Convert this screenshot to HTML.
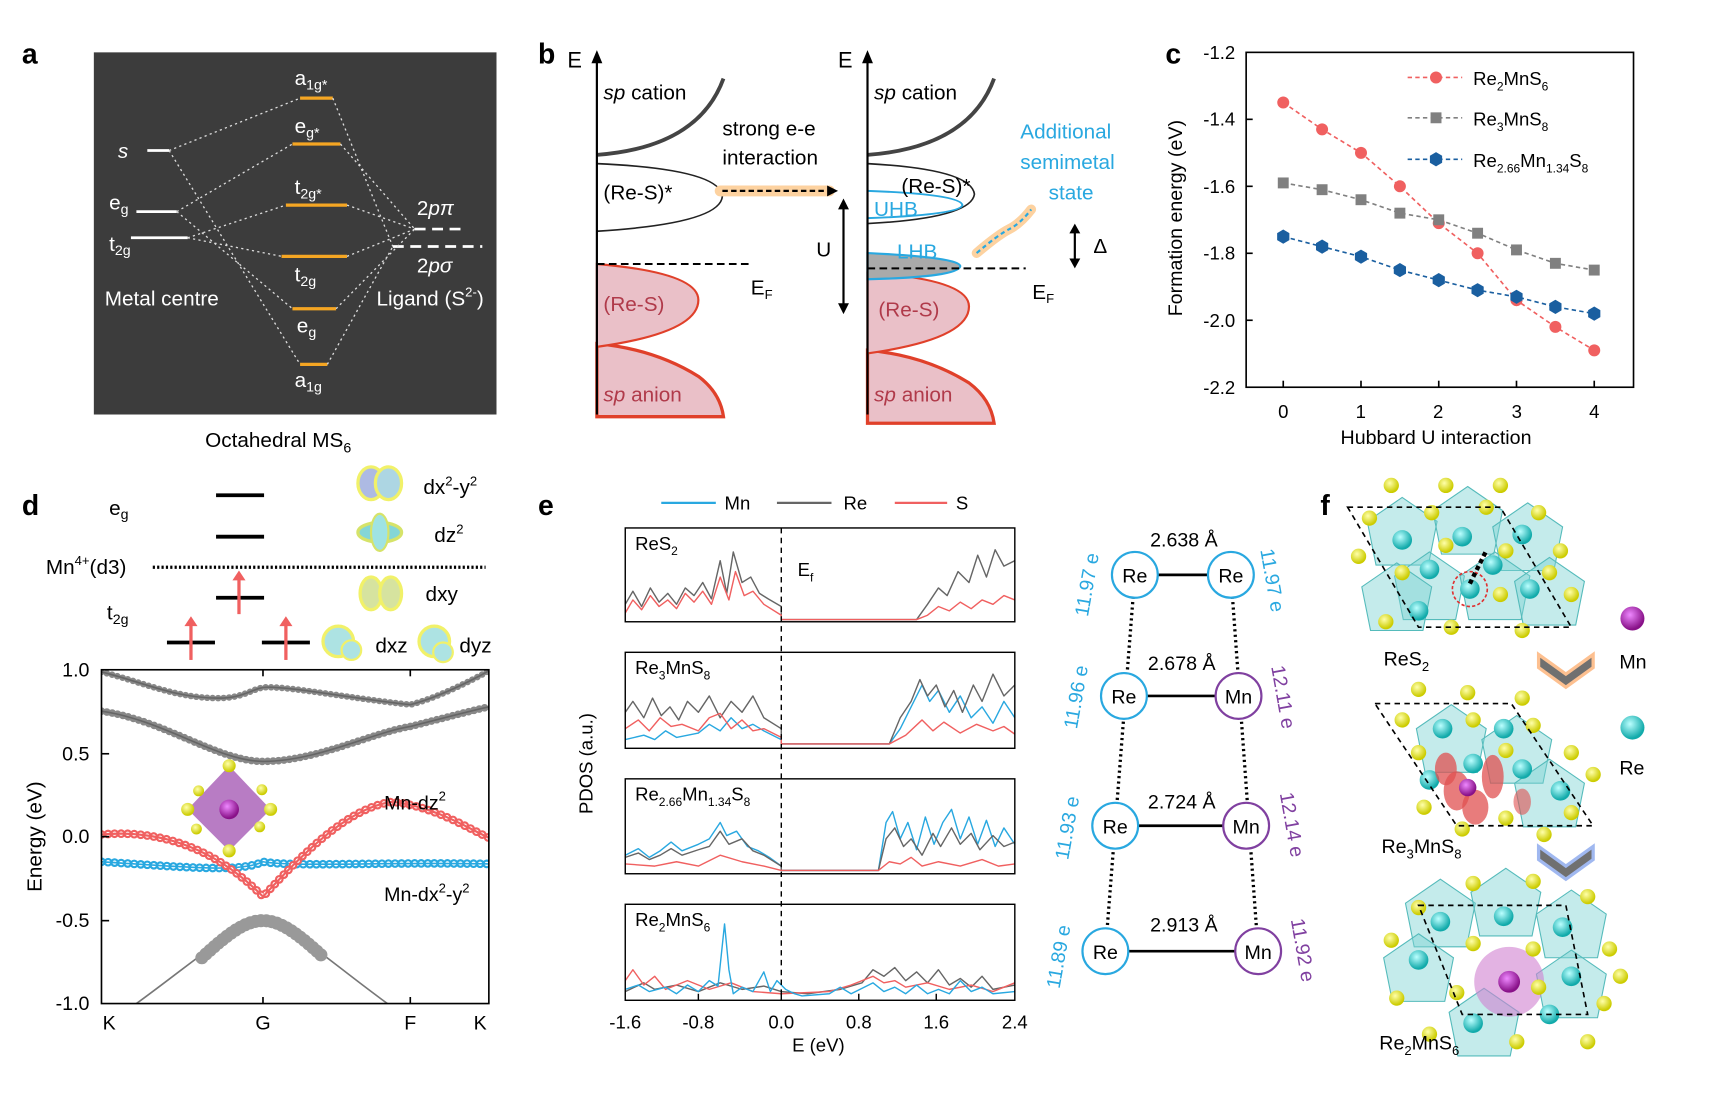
<!DOCTYPE html>
<html><head><meta charset="utf-8">
<style>
html,body{margin:0;padding:0;background:#fff;}
svg{display:block;font-family:"Liberation Sans",Arial,sans-serif;}
</style></head>
<body>
<svg width="1711" height="1093" viewBox="0 0 1568 1002" preserveAspectRatio="none" xmlns="http://www.w3.org/2000/svg" xmlns:xlink="http://www.w3.org/1999/xlink">
<defs>
<radialGradient id="teal" cx="40%" cy="35%" r="60%"><stop offset="0" stop-color="#bff"/><stop offset="1" stop-color="#1aa"/></radialGradient>
<radialGradient id="yel" cx="40%" cy="35%" r="60%"><stop offset="0" stop-color="#ffa"/><stop offset="1" stop-color="#cc0"/></radialGradient>
<radialGradient id="pur" cx="40%" cy="35%" r="60%"><stop offset="0" stop-color="#e8f"/><stop offset="1" stop-color="#818"/></radialGradient>
<circle id="T" r="9" fill="url(#teal)"/>
<circle id="Y" r="7" fill="url(#yel)"/>
<polygon id="P" points="0,-34 32,-12 24,28 -24,28 -32,-12" fill="#7dd3d3" fill-opacity="0.45" stroke="#5bb" stroke-width="1"/>
<polygon id="H" points="0,-6.5 5.6,-3.2 5.6,3.2 0,6.5 -5.6,3.2 -5.6,-3.2" fill="#1a5fa0"/>
</defs>
<g font-weight="bold" font-size="26">
<text x="20" y="58">a</text><text x="493" y="58">b</text><text x="1068" y="58">c</text>
<text x="20" y="472">d</text><text x="493" y="472">e</text><text x="1210" y="472">f</text>
</g>
<!-- ===== panel a ===== -->
<rect x="86" y="48" width="369" height="332" fill="#3c3c3c"/>
<g stroke="#fff" stroke-width="2.5">
<line x1="135" y1="138" x2="155" y2="138"/><line x1="125" y1="194" x2="162" y2="194"/><line x1="120" y1="218" x2="172" y2="218"/>
</g>
<g stroke="#f5a623" stroke-width="3">
<line x1="275" y1="90" x2="305" y2="90"/><line x1="268" y1="132" x2="312" y2="132"/><line x1="262" y1="188" x2="318" y2="188"/>
<line x1="258" y1="235" x2="318" y2="235"/><line x1="268" y1="283" x2="308" y2="283"/><line x1="275" y1="334" x2="300" y2="334"/>
</g>
<g stroke="#fff" stroke-width="2.5" stroke-dasharray="10,6">
<line x1="380" y1="210" x2="425" y2="210"/><line x1="360" y1="226" x2="442" y2="226"/>
</g>
<g stroke="#ddd" stroke-width="1.2" stroke-dasharray="2,3" fill="none">
<path d="M155 138 L275 90 M155 138 L275 334 M162 194 L268 132 M162 194 L268 283 M172 218 L262 188 M172 218 L258 235"/>
<path d="M305 90 L360 226 M312 132 L380 210 M318 188 L380 210 M318 235 L380 210 M308 283 L380 210 M300 334 L360 226"/>
</g>
<g fill="#fff" font-size="19">
<text x="108" y="145" font-style="italic">s</text>
<text x="100" y="192">e<tspan font-size="13" dy="4">g</tspan></text>
<text x="100" y="230">t<tspan font-size="13" dy="4">2g</tspan></text>
<text x="96" y="280">Metal centre</text>
<text x="270" y="78">a<tspan font-size="13" dy="4">1g*</tspan></text>
<text x="270" y="122">e<tspan font-size="13" dy="4">g*</tspan></text>
<text x="270" y="178">t<tspan font-size="13" dy="4">2g*</tspan></text>
<text x="270" y="258">t<tspan font-size="13" dy="4">2g</tspan></text>
<text x="272" y="305">e<tspan font-size="13" dy="4">g</tspan></text>
<text x="270" y="355">a<tspan font-size="13" dy="4">1g</tspan></text>
<text x="382" y="197">2<tspan font-style="italic">pπ</tspan></text>
<text x="382" y="250">2<tspan font-style="italic">pσ</tspan></text>
<text x="345" y="280">Ligand (S<tspan font-size="12" dy="-8">2-</tspan><tspan dy="8">)</tspan></text>
</g>
<text x="188" y="410" font-size="19">Octahedral MS<tspan font-size="13" dy="5">6</tspan></text>
<!-- ===== panel b ===== -->
<path d="M547 315 Q600 320 640 345 Q660 360 663 382 L547 382Z" fill="#eac0c8" stroke="#e0402a" stroke-width="3"/>
<path d="M547 242 Q640 250 640 275 Q640 305 547 318Z" fill="#eac0c8" stroke="#e0402a" stroke-width="2"/>
<path d="M547 150 Q660 155 662 180 Q660 205 547 212" fill="none" stroke="#222" stroke-width="1.5"/>
<path d="M547 142 Q640 135 663 72" fill="none" stroke="#444" stroke-width="3.5"/>
<line x1="547" y1="380" x2="547" y2="50" stroke="#000" stroke-width="2"/>
<path d="M542 58 L547 46 L552 58Z"/>
<text x="520" y="62" font-size="20">E</text>
<line x1="547" y1="242" x2="690" y2="242" stroke="#000" stroke-width="1.8" stroke-dasharray="7,4"/>
<g font-size="19">
<text x="553" y="91"><tspan font-style="italic">sp</tspan> cation</text>
<text x="553" y="183">(Re-S)*</text>
<text x="553" y="285" fill="#b03a4a">(Re-S)</text>
<text x="553" y="368" fill="#b03a4a"><tspan font-style="italic">sp</tspan> anion</text>
<text x="662" y="124">strong e-e</text><text x="662" y="151">interaction</text>
<text x="688" y="270">E<tspan font-size="12" dy="4">F</tspan></text>
</g>
<line x1="660" y1="175" x2="760" y2="175" stroke="#fdd2a0" stroke-width="10" stroke-linecap="round"/>
<line x1="662" y1="175" x2="758" y2="175" stroke="#000" stroke-width="2" stroke-dasharray="5,3"/>
<path d="M758 170 L768 175 L758 180Z"/>
<g transform="translate(248,6)">
<path d="M547 315 Q600 320 640 345 Q660 360 663 382 L547 382Z" fill="#eac0c8" stroke="#e0402a" stroke-width="3"/>
<path d="M547 244 Q640 250 640 275 Q640 305 547 318Z" fill="#eac0c8" stroke="#e0402a" stroke-width="2"/>
</g>
<path d="M795 232 Q880 236 880 244 Q878 254 795 256Z" fill="#aaa" stroke="#29a8e0" stroke-width="2"/>
<path d="M795 150 Q890 155 893 178 Q890 200 795 205" fill="none" stroke="#222" stroke-width="1.5"/>
<path d="M795 175 Q880 178 882 188 Q880 197 795 200" fill="none" stroke="#29a8e0" stroke-width="1.8"/>
<path d="M795 142 Q888 135 911 72" fill="none" stroke="#444" stroke-width="3.5"/>
<line x1="795" y1="380" x2="795" y2="50" stroke="#000" stroke-width="2"/>
<path d="M790 58 L795 46 L800 58Z"/>
<text x="768" y="62" font-size="20">E</text>
<line x1="795" y1="246" x2="940" y2="246" stroke="#000" stroke-width="1.8" stroke-dasharray="7,4"/>
<line x1="773" y1="185" x2="773" y2="285" stroke="#000" stroke-width="2"/>
<path d="M768 192 L773 182 L778 192Z M768 278 L773 288 L778 278Z"/>
<line x1="985" y1="208" x2="985" y2="243" stroke="#000" stroke-width="2"/>
<path d="M980 214 L985 205 L990 214Z M980 237 L985 246 L990 237Z"/>
<g font-size="19">
<text x="748" y="235">U</text><text x="1002" y="232">Δ</text>
<text x="801" y="91"><tspan font-style="italic">sp</tspan> cation</text>
<text x="826" y="177">(Re-S)*</text>
<text x="801" y="198" fill="#29a8e0">UHB</text>
<text x="822" y="237" fill="#29a8e0">LHB</text>
<text x="805" y="290" fill="#b03a4a">(Re-S)</text>
<text x="801" y="368" fill="#b03a4a"><tspan font-style="italic">sp</tspan> anion</text>
<text x="946" y="274">E<tspan font-size="12" dy="4">F</tspan></text>
<g fill="#29a8e0"><text x="935" y="127">Additional</text><text x="935" y="155">semimetal</text><text x="961" y="183">state</text></g>
</g>
<path d="M895 232 Q915 215 925 210 Q935 205 945 192" fill="none" stroke="#fdd2a0" stroke-width="9" stroke-linecap="round"/>
<path d="M895 232 Q915 215 925 210 Q935 205 945 192" fill="none" stroke="#29a8e0" stroke-width="2" stroke-dasharray="4,3"/>
<!-- ===== panel c ===== -->
<rect x="1142" y="48" width="355" height="307" fill="none" stroke="#000" stroke-width="1.5"/>
<g stroke="#000" stroke-width="1.5">
<line x1="1142" y1="109.4" x2="1148" y2="109.4"/><line x1="1142" y1="170.8" x2="1148" y2="170.8"/><line x1="1142" y1="232.2" x2="1148" y2="232.2"/><line x1="1142" y1="293.6" x2="1148" y2="293.6"/>
<line x1="1176" y1="355" x2="1176" y2="349"/><line x1="1247.25" y1="355" x2="1247.25" y2="349"/><line x1="1318.5" y1="355" x2="1318.5" y2="349"/><line x1="1389.75" y1="355" x2="1389.75" y2="349"/><line x1="1461" y1="355" x2="1461" y2="349"/>
</g>
<g font-size="17" text-anchor="end">
<text x="1132" y="54">-1.2</text><text x="1132" y="115">-1.4</text><text x="1132" y="177">-1.6</text><text x="1132" y="238">-1.8</text><text x="1132" y="300">-2.0</text><text x="1132" y="361">-2.2</text>
</g>
<g font-size="17" text-anchor="middle">
<text x="1176" y="383">0</text><text x="1247" y="383">1</text><text x="1318" y="383">2</text><text x="1390" y="383">3</text><text x="1461" y="383">4</text>
</g>
<text transform="translate(1083,200) rotate(-90)" font-size="18" text-anchor="middle">Formation energy (eV)</text>
<text x="1316" y="407" font-size="18" text-anchor="middle">Hubbard U interaction</text>
<g fill="none" stroke-width="1.5" stroke-dasharray="4,3">
<polyline stroke="#f06060" points="1176,94 1211.6,118.6 1247.25,140.1 1282.9,170.8 1318.5,204.6 1354.1,232.2 1389.75,275.2 1425.4,299.7 1461,321.2"/>
<polyline stroke="#808080" points="1176,167.7 1211.6,173.9 1247.25,183.1 1282.9,195.4 1318.5,201.5 1354.1,213.8 1389.75,229.1 1425.4,241.4 1461,247.6"/>
<polyline stroke="#1a5fa0" points="1176,216.9 1211.6,226.1 1247.25,235.3 1282.9,247.6 1318.5,256.8 1354.1,266 1389.75,272.1 1425.4,281.3 1461,287.5"/>
</g>
<g fill="#f06060"><circle cx="1176" cy="94" r="5.5"/><circle cx="1211.6" cy="118.6" r="5.5"/><circle cx="1247.25" cy="140.1" r="5.5"/><circle cx="1282.9" cy="170.8" r="5.5"/><circle cx="1318.5" cy="204.6" r="5.5"/><circle cx="1354.1" cy="232.2" r="5.5"/><circle cx="1389.75" cy="275.2" r="5.5"/><circle cx="1425.4" cy="299.7" r="5.5"/><circle cx="1461" cy="321.2" r="5.5"/></g>
<g fill="#808080"><rect x="1171" y="162.7" width="10" height="10"/><rect x="1206.6" y="168.9" width="10" height="10"/><rect x="1242.25" y="178.1" width="10" height="10"/><rect x="1277.9" y="190.4" width="10" height="10"/><rect x="1313.5" y="196.5" width="10" height="10"/><rect x="1349.1" y="208.8" width="10" height="10"/><rect x="1384.75" y="224.1" width="10" height="10"/><rect x="1420.4" y="236.4" width="10" height="10"/><rect x="1456" y="242.6" width="10" height="10"/></g>
<g>
<use xlink:href="#H" x="1176" y="216.9"/><use xlink:href="#H" x="1211.6" y="226.1"/><use xlink:href="#H" x="1247.25" y="235.3"/><use xlink:href="#H" x="1282.9" y="247.6"/><use xlink:href="#H" x="1318.5" y="256.8"/><use xlink:href="#H" x="1354.1" y="266"/><use xlink:href="#H" x="1389.75" y="272.1"/><use xlink:href="#H" x="1425.4" y="281.3"/><use xlink:href="#H" x="1461" y="287.5"/>
</g>
<g font-size="17">
<line x1="1290" y1="71" x2="1340" y2="71" stroke="#f06060" stroke-dasharray="4,3" stroke-width="1.5"/><circle cx="1316" cy="71" r="5.5" fill="#f06060"/>
<text x="1350" y="78">Re<tspan font-size="11" dy="5">2</tspan><tspan dy="-5">MnS</tspan><tspan font-size="11" dy="5">6</tspan></text>
<line x1="1290" y1="108" x2="1340" y2="108" stroke="#808080" stroke-dasharray="4,3" stroke-width="1.5"/><rect x="1311" y="103" width="10" height="10" fill="#808080"/>
<text x="1350" y="115">Re<tspan font-size="11" dy="5">3</tspan><tspan dy="-5">MnS</tspan><tspan font-size="11" dy="5">8</tspan></text>
<line x1="1290" y1="146" x2="1340" y2="146" stroke="#1a5fa0" stroke-dasharray="4,3" stroke-width="1.5"/><use xlink:href="#H" x="1316" y="146"/>
<text x="1350" y="153">Re<tspan font-size="11" dy="5">2.66</tspan><tspan dy="-5">Mn</tspan><tspan font-size="11" dy="5">1.34</tspan><tspan dy="-5">S</tspan><tspan font-size="11" dy="5">8</tspan></text>
</g>
<!-- ===== panel d ===== -->
<g stroke="#000" stroke-width="3.5">
<line x1="198" y1="454" x2="242" y2="454"/><line x1="198" y1="492" x2="242" y2="492"/>
<line x1="198" y1="548" x2="242" y2="548"/><line x1="153" y1="589" x2="197" y2="589"/><line x1="240" y1="589" x2="284" y2="589"/>
</g>
<line x1="140" y1="520" x2="445" y2="520" stroke="#000" stroke-width="3" stroke-dasharray="2,2"/>
<g stroke="#f06060" stroke-width="3">
<line x1="175" y1="605" x2="175" y2="572"/><line x1="219" y1="563" x2="219" y2="530"/><line x1="262" y1="605" x2="262" y2="572"/>
</g>
<g fill="#f06060"><path d="M169 574 L175 565 L181 574Z M213 532 L219 523 L225 532Z M256 574 L262 565 L268 574Z"/></g>
<g font-size="19">
<text x="100" y="472">e<tspan font-size="13" dy="4">g</tspan></text>
<text x="42" y="526">Mn<tspan font-size="12" dy="-8">4+</tspan><tspan dy="8">(d3)</tspan></text>
<text x="98" y="568">t<tspan font-size="13" dy="4">2g</tspan></text>
<text x="388" y="453">dx<tspan font-size="12" dy="-8">2</tspan><tspan dy="8">-y</tspan><tspan font-size="12" dy="-8">2</tspan></text>
<text x="398" y="497">dz<tspan font-size="12" dy="-8">2</tspan></text>
<text x="390" y="551">dxy</text><text x="344" y="598">dxz</text><text x="421" y="598">dyz</text>
</g>
<g opacity="0.8">
<ellipse cx="340" cy="443" rx="12" ry="15" fill="#9ad" stroke="#ee4" stroke-width="3"/><ellipse cx="356" cy="443" rx="12" ry="15" fill="#9cd" stroke="#ee4" stroke-width="3"/>
<ellipse cx="348" cy="488" rx="20" ry="9" fill="#6cc" stroke="#cd4" stroke-width="3"/><ellipse cx="348" cy="488" rx="8" ry="17" fill="#8dd" stroke="#cd4" stroke-width="2"/>
<ellipse cx="340" cy="544" rx="10" ry="15" fill="#cd8" stroke="#ee4" stroke-width="3"/><ellipse cx="358" cy="544" rx="10" ry="15" fill="#cd8" stroke="#ee4" stroke-width="3"/>
<circle cx="310" cy="588" r="14" fill="#9dd" stroke="#ee4" stroke-width="3"/><circle cx="322" cy="596" r="9" fill="#9dd" stroke="#ee4" stroke-width="2"/>
<circle cx="398" cy="588" r="14" fill="#9dd" stroke="#ee4" stroke-width="3"/><circle cx="406" cy="598" r="9" fill="#9dd" stroke="#ee4" stroke-width="2"/>
</g>
<clipPath id="dc"><rect x="93" y="614" width="355" height="306"/></clipPath>
<g clip-path="url(#dc)" fill="none" stroke-linecap="round">
<path d="M93 616 C130 625 160 640 200 640 C225 640 232 630 245 630 C270 630 320 640 376 646 C400 640 430 625 448 615" stroke="#888" stroke-width="6" stroke-dasharray="0 5"/>
<path d="M93 616 C130 625 160 640 200 640 C225 640 232 630 245 630 C270 630 320 640 376 646 C400 640 430 625 448 615" stroke="#666" stroke-width="1.5"/>
<path d="M93 652 C150 660 200 698 241 698 C290 698 340 672 376 666 C400 660 430 652 448 648" stroke="#888" stroke-width="7" stroke-dasharray="0 5"/>
<path d="M93 652 C150 660 200 698 241 698 C290 698 340 672 376 666 C400 660 430 652 448 648" stroke="#666" stroke-width="1.5"/>
<path d="M125 920 C180 880 220 844 241 844 C262 844 300 880 355 920" stroke="#777" stroke-width="1.5"/>
<path d="M185 878 C210 855 225 844 241 844 C257 844 272 855 297 878" stroke="#999" stroke-width="12" stroke-dasharray="0 5"/>
<path d="M93 790 C170 795 220 800 241 790 C270 795 350 790 448 792" stroke="#29a8e0" stroke-width="8" stroke-dasharray="0 6"/>
<path d="M93 790 C170 795 220 800 241 790 C270 795 350 790 448 792" stroke="#fff" stroke-width="4" stroke-dasharray="0 6"/>
<path d="M93 790 C170 795 220 800 241 790 C270 795 350 790 448 792" stroke="#29a8e0" stroke-width="1.5"/>
<path d="M93 765 C150 760 200 780 241 822 C280 780 320 740 360 735 C400 740 430 760 448 768" stroke="#f06060" stroke-width="8" stroke-dasharray="0 6"/>
<path d="M93 765 C150 760 200 780 241 822 C280 780 320 740 360 735 C400 740 430 760 448 768" stroke="#fff" stroke-width="4" stroke-dasharray="0 6"/>
<path d="M93 765 C150 760 200 780 241 822 C280 780 320 740 360 735 C400 740 430 760 448 768" stroke="#f06060" stroke-width="2"/>
</g>
<rect x="93" y="614" width="355" height="306" fill="none" stroke="#000" stroke-width="1.5"/>
<g font-size="18" text-anchor="end">
<text x="82" y="620">1.0</text><text x="82" y="697">0.5</text><text x="82" y="773">0.0</text><text x="82" y="850">-0.5</text><text x="82" y="926">-1.0</text>
</g>
<g stroke="#000" stroke-width="1.5"><line x1="93" y1="691" x2="100" y2="691"/><line x1="93" y1="767" x2="100" y2="767"/><line x1="93" y1="844" x2="100" y2="844"/>
<line x1="241" y1="614" x2="241" y2="620"/><line x1="376" y1="614" x2="376" y2="620"/><line x1="241" y1="920" x2="241" y2="914"/><line x1="376" y1="920" x2="376" y2="914"/></g>
<g font-size="18" text-anchor="middle"><text x="100" y="944">K</text><text x="241" y="944">G</text><text x="376" y="944">F</text><text x="440" y="944">K</text></g>
<text transform="translate(38,767) rotate(-90)" font-size="19" text-anchor="middle">Energy (eV)</text>
<g font-size="18"><text x="352" y="742">Mn-dz<tspan font-size="12" dy="-8">2</tspan></text>
<text x="352" y="826">Mn-dx<tspan font-size="12" dy="-8">2</tspan><tspan dy="8">-y</tspan><tspan font-size="12" dy="-8">2</tspan></text></g>
<polygon points="210,702 248,742 210,780 172,742" fill="#a050b0" opacity="0.75"/>
<circle cx="210" cy="742" r="9" fill="url(#pur)"/>
<g fill="url(#yel)"><circle cx="210" cy="702" r="6"/><circle cx="210" cy="780" r="6"/><circle cx="172" cy="742" r="6"/><circle cx="248" cy="742" r="6"/><circle cx="182" cy="725" r="5"/><circle cx="238" cy="758" r="5"/><circle cx="240" cy="724" r="5"/><circle cx="180" cy="760" r="5"/></g>
<!-- ===== panel e ===== -->
<g font-size="17">
<line x1="606" y1="461" x2="656" y2="461" stroke="#29a8e0" stroke-width="2"/><text x="664" y="467">Mn</text>
<line x1="712" y1="461" x2="762" y2="461" stroke="#666" stroke-width="2"/><text x="773" y="467">Re</text>
<line x1="820" y1="461" x2="868" y2="461" stroke="#f06060" stroke-width="2"/><text x="876" y="467">S</text>
</g>
<g fill="none" stroke-width="1.3" stroke-linejoin="round">
<g transform="translate(0,484)">
<polyline stroke="#666" points="573,70 580,58 588,72 596,55 604,68 612,60 620,70 628,55 636,62 644,50 652,65 660,30 666,60 672,22 680,50 688,45 696,60 704,65 716,72 716,84 840,84 850,70 860,55 868,62 878,40 888,50 896,25 904,45 912,20 920,35 930,30"/>
<polyline stroke="#f06060" points="573,78 580,66 588,75 596,62 604,72 612,66 620,74 628,60 636,68 644,58 652,70 660,45 668,66 674,40 682,62 690,58 700,70 716,80 716,84 840,84 850,80 860,72 870,76 880,68 890,74 900,66 910,70 920,62 930,66"/>
</g>
<g transform="translate(0,598)">
<polyline stroke="#29a8e0" points="573,80 590,76 600,80 610,72 620,78 640,74 650,66 660,72 670,60 680,70 690,66 700,72 716,80 716,84 815,84 825,70 835,50 845,30 852,45 860,35 870,55 880,40 890,60 900,50 910,65 920,45 930,60"/>
<polyline stroke="#666" points="573,55 580,45 590,60 598,42 606,58 614,50 622,62 630,45 640,55 650,40 660,60 670,45 680,55 690,40 700,60 716,70 716,84 815,84 825,60 835,45 843,25 850,40 858,30 866,50 874,35 882,55 892,30 900,45 910,20 920,40 930,30"/>
<polyline stroke="#f06060" points="573,70 585,62 595,72 605,60 615,68 625,66 640,72 650,60 660,56 670,70 680,62 690,72 700,70 716,78 716,84 815,84 830,76 845,62 855,72 865,64 880,74 895,66 910,72 920,68 930,75"/>
</g>
<g transform="translate(0,714)">
<polyline stroke="#29a8e0" points="573,70 585,64 595,72 605,66 615,58 625,66 640,60 650,55 660,40 666,52 675,48 685,62 695,66 705,72 716,80 716,84 805,84 812,40 818,30 825,55 832,40 840,65 848,35 856,60 864,40 872,28 880,55 888,35 896,60 904,38 912,62 920,45 930,60"/>
<polyline stroke="#666" points="573,72 585,68 595,74 605,70 615,64 625,70 640,65 650,62 660,48 668,60 680,55 690,66 700,70 716,80 716,84 805,84 812,55 820,45 828,62 835,55 845,70 855,50 862,62 872,45 880,60 890,50 898,65 910,52 920,62 930,58"/>
<polyline stroke="#f06060" points="573,78 600,80 620,76 640,80 660,70 680,76 700,80 716,84 805,84 815,76 825,78 835,72 845,80 860,76 880,80 900,74 915,80 930,78"/>
</g>
<g transform="translate(0,829)">
<polyline stroke="#666" points="573,80 590,72 600,78 620,74 640,80 660,72 680,78 700,75 716,80 740,82 770,78 790,72 800,60 810,66 820,58 830,70 840,62 850,72 860,60 870,74 880,68 890,76 900,66 910,78 930,74"/>
<polyline stroke="#f06060" points="573,70 580,60 590,74 600,66 610,78 630,70 650,78 670,72 690,80 716,82 760,80 780,74 800,66 810,72 820,70 830,76 850,72 870,78 890,74 910,80 930,72"/>
<polyline stroke="#29a8e0" points="573,78 585,74 595,80 610,76 620,82 630,74 640,80 650,70 658,75 664,18 668,60 672,82 680,76 690,80 700,62 706,80 712,70 720,78 728,82 735,84 760,82 770,76 780,82 800,72 810,80 820,76 830,82 840,74 850,82 860,78 870,82 880,70 890,80 900,76 910,82 930,80"/>
</g>
</g>
<g fill="none" stroke="#000" stroke-width="1.3">
<rect x="573" y="484" width="357" height="86"/><rect x="573" y="598" width="357" height="88"/><rect x="573" y="714" width="357" height="87"/><rect x="573" y="829" width="357" height="88"/>
<line x1="640" y1="917" x2="640" y2="911"/><line x1="716" y1="917" x2="716" y2="911"/><line x1="787" y1="917" x2="787" y2="911"/><line x1="858" y1="917" x2="858" y2="911"/>
</g>
<line x1="716" y1="484" x2="716" y2="917" stroke="#000" stroke-width="1.3" stroke-dasharray="5,4"/>
<g font-size="17">
<text x="582" y="504">ReS<tspan font-size="11" dy="5">2</tspan></text>
<text x="731" y="528">E<tspan font-size="11" dy="5">f</tspan></text>
<text x="582" y="618">Re<tspan font-size="11" dy="5">3</tspan><tspan dy="-5">MnS</tspan><tspan font-size="11" dy="5">8</tspan></text>
<text x="582" y="734">Re<tspan font-size="11" dy="5">2.66</tspan><tspan dy="-5">Mn</tspan><tspan font-size="11" dy="5">1.34</tspan><tspan dy="-5">S</tspan><tspan font-size="11" dy="5">8</tspan></text>
<text x="582" y="849">Re<tspan font-size="11" dy="5">2</tspan><tspan dy="-5">MnS</tspan><tspan font-size="11" dy="5">6</tspan></text>
</g>
<text transform="translate(543,700) rotate(-90)" font-size="17" text-anchor="middle">PDOS (a.u.)</text>
<g font-size="17" text-anchor="middle">
<text x="573" y="943">-1.6</text><text x="640" y="943">-0.8</text><text x="716" y="943">0.0</text><text x="787" y="943">0.8</text><text x="858" y="943">1.6</text><text x="930" y="943">2.4</text>
<text x="750" y="964">E (eV)</text>
</g>
<!-- e right -->
<g stroke="#000" stroke-width="3" stroke-dasharray="2,3" fill="none">
<path d="M1040 527 L1013 872 M1128 527 L1153 872"/>
</g>
<g stroke="#000" stroke-width="2.5">
<line x1="1040" y1="527" x2="1128" y2="527"/><line x1="1030" y1="638" x2="1135" y2="638"/><line x1="1022" y1="757" x2="1142" y2="757"/><line x1="1013" y1="872" x2="1153" y2="872"/>
</g>
<g font-size="18" text-anchor="middle">
<g stroke-width="2" fill="#fff">
<circle cx="1040" cy="527" r="21" stroke="#29a8e0"/><circle cx="1128" cy="527" r="21" stroke="#29a8e0"/>
<circle cx="1030" cy="638" r="21" stroke="#29a8e0"/><circle cx="1135" cy="638" r="21" stroke="#8040a0"/>
<circle cx="1022" cy="757" r="21" stroke="#29a8e0"/><circle cx="1142" cy="757" r="21" stroke="#8040a0"/>
<circle cx="1013" cy="872" r="21" stroke="#29a8e0"/><circle cx="1153" cy="872" r="21" stroke="#8040a0"/>
</g>
<text x="1040" y="534">Re</text><text x="1128" y="534">Re</text><text x="1030" y="645">Re</text><text x="1135" y="645">Mn</text>
<text x="1022" y="764">Re</text><text x="1142" y="764">Mn</text><text x="1013" y="879">Re</text><text x="1153" y="879">Mn</text>
<text x="1085" y="501">2.638 Å</text><text x="1083" y="614">2.678 Å</text><text x="1083" y="741">2.724 Å</text><text x="1085" y="854">2.913 Å</text>
</g>
<g font-size="18" text-anchor="middle">
<text transform="translate(1002,537) rotate(-80)" fill="#29a8e0">11.97 e</text>
<text transform="translate(1160,533) rotate(80)" fill="#29a8e0">11.97 e</text>
<text transform="translate(992,640) rotate(-80)" fill="#29a8e0">11.96 e</text>
<text transform="translate(1170,640) rotate(80)" fill="#8040a0">12.11 e</text>
<text transform="translate(984,760) rotate(-80)" fill="#29a8e0">11.93 e</text>
<text transform="translate(1178,757) rotate(80)" fill="#8040a0">12.14 e</text>
<text transform="translate(976,878) rotate(-80)" fill="#29a8e0">11.89 e</text>
<text transform="translate(1188,872) rotate(80)" fill="#8040a0">11.92 e</text>
</g>
<!-- ===== panel f ===== -->
<g>
<use xlink:href="#P" x="1285" y="490"/><use xlink:href="#P" x="1345" y="480"/><use xlink:href="#P" x="1400" y="495"/><use xlink:href="#P" x="1310" y="540"/><use xlink:href="#P" x="1370" y="540"/><use xlink:href="#P" x="1420" y="545"/><use xlink:href="#P" x="1280" y="550"/>
<use xlink:href="#T" x="1285" y="495"/><use xlink:href="#T" x="1340" y="492"/><use xlink:href="#T" x="1395" y="490"/><use xlink:href="#T" x="1310" y="522"/><use xlink:href="#T" x="1368" y="518"/><use xlink:href="#T" x="1347" y="540"/><use xlink:href="#T" x="1402" y="540"/><use xlink:href="#T" x="1300" y="560"/>
<use xlink:href="#Y" x="1275" y="445"/><use xlink:href="#Y" x="1325" y="445"/><use xlink:href="#Y" x="1375" y="445"/><use xlink:href="#Y" x="1255" y="475"/><use xlink:href="#Y" x="1312" y="470"/><use xlink:href="#Y" x="1362" y="465"/><use xlink:href="#Y" x="1410" y="470"/><use xlink:href="#Y" x="1245" y="510"/><use xlink:href="#Y" x="1325" y="500"/><use xlink:href="#Y" x="1380" y="505"/><use xlink:href="#Y" x="1430" y="505"/><use xlink:href="#Y" x="1285" y="525"/><use xlink:href="#Y" x="1375" y="545"/><use xlink:href="#Y" x="1440" y="545"/><use xlink:href="#Y" x="1270" y="570"/><use xlink:href="#Y" x="1330" y="575"/><use xlink:href="#Y" x="1395" y="578"/><use xlink:href="#Y" x="1420" y="525"/>
</g>
<circle cx="1347" cy="540" r="16" fill="none" stroke="#e03030" stroke-width="1.5" stroke-dasharray="3,2"/>
<line x1="1347" y1="535" x2="1362" y2="505" stroke="#000" stroke-width="4" stroke-dasharray="4,3"/>
<g>
<use xlink:href="#P" x="1330" y="680"/><use xlink:href="#P" x="1390" y="690"/><use xlink:href="#P" x="1420" y="730"/>
<use xlink:href="#T" x="1322" y="668"/><use xlink:href="#T" x="1378" y="668"/><use xlink:href="#T" x="1395" y="705"/><use xlink:href="#T" x="1350" y="700"/><use xlink:href="#T" x="1430" y="725"/><use xlink:href="#T" x="1310" y="715"/>
<ellipse cx="1335" cy="725" rx="12" ry="18" fill="#e05050" opacity="0.75"/><ellipse cx="1325" cy="705" rx="10" ry="15" fill="#e05050" opacity="0.75"/><ellipse cx="1352" cy="740" rx="12" ry="16" fill="#e05050" opacity="0.75"/><ellipse cx="1368" cy="712" rx="10" ry="20" fill="#e05050" opacity="0.75"/><ellipse cx="1395" cy="735" rx="8" ry="12" fill="#e05050" opacity="0.6"/>
<circle cx="1345" cy="722" r="8" fill="url(#pur)"/>
<use xlink:href="#Y" x="1300" y="632"/><use xlink:href="#Y" x="1345" y="635"/><use xlink:href="#Y" x="1395" y="640"/><use xlink:href="#Y" x="1285" y="660"/><use xlink:href="#Y" x="1350" y="660"/><use xlink:href="#Y" x="1405" y="665"/><use xlink:href="#Y" x="1300" y="690"/><use xlink:href="#Y" x="1380" y="688"/><use xlink:href="#Y" x="1440" y="690"/><use xlink:href="#Y" x="1305" y="740"/><use xlink:href="#Y" x="1380" y="750"/><use xlink:href="#Y" x="1460" y="710"/><use xlink:href="#Y" x="1440" y="745"/><use xlink:href="#Y" x="1340" y="760"/><use xlink:href="#Y" x="1415" y="765"/>
</g>
<g>
<use xlink:href="#P" x="1320" y="840"/><use xlink:href="#P" x="1380" y="830"/><use xlink:href="#P" x="1440" y="850"/><use xlink:href="#P" x="1300" y="890"/><use xlink:href="#P" x="1440" y="905"/><use xlink:href="#P" x="1360" y="940"/>
<circle cx="1383" cy="900" r="32" fill="#d080d0" opacity="0.6"/><circle cx="1383" cy="900" r="10" fill="url(#pur)"/>
<use xlink:href="#T" x="1320" y="845"/><use xlink:href="#T" x="1378" y="840"/><use xlink:href="#T" x="1432" y="850"/><use xlink:href="#T" x="1300" y="880"/><use xlink:href="#T" x="1440" y="895"/><use xlink:href="#T" x="1420" y="930"/><use xlink:href="#T" x="1350" y="938"/>
<use xlink:href="#Y" x="1300" y="832"/><use xlink:href="#Y" x="1350" y="810"/><use xlink:href="#Y" x="1405" y="808"/><use xlink:href="#Y" x="1455" y="822"/><use xlink:href="#Y" x="1275" y="862"/><use xlink:href="#Y" x="1350" y="865"/><use xlink:href="#Y" x="1405" y="870"/><use xlink:href="#Y" x="1475" y="870"/><use xlink:href="#Y" x="1280" y="915"/><use xlink:href="#Y" x="1335" y="910"/><use xlink:href="#Y" x="1410" y="905"/><use xlink:href="#Y" x="1470" y="920"/><use xlink:href="#Y" x="1310" y="948"/><use xlink:href="#Y" x="1390" y="955"/><use xlink:href="#Y" x="1455" y="955"/><use xlink:href="#Y" x="1485" y="895"/>
</g>
<g stroke="#000" stroke-width="1.5" stroke-dasharray="5,4" fill="none">
<polygon points="1235,465 1375,465 1440,575 1300,575"/>
<polygon points="1260,645 1385,645 1460,757 1335,757"/>
<polygon points="1300,830 1435,830 1455,930 1340,930"/>
</g>
<path d="M1410 600 L1435 618 L1460 600 L1460 612 L1435 630 L1410 612Z" fill="#707070" stroke="#fdc090" stroke-width="3"/>
<path d="M1410 776 L1435 794 L1460 776 L1460 788 L1435 806 L1410 788Z" fill="#707070" stroke="#a0b8f0" stroke-width="3"/>
<circle cx="1496" cy="567" r="11" fill="url(#pur)"/><circle cx="1496" cy="667" r="11" fill="url(#teal)"/>
<g font-size="18"><text x="1484" y="613">Mn</text><text x="1484" y="710">Re</text>
<text x="1268" y="610">ReS<tspan font-size="12" dy="5">2</tspan></text>
<text x="1266" y="782">Re<tspan font-size="12" dy="5">3</tspan><tspan dy="-5">MnS</tspan><tspan font-size="12" dy="5">8</tspan></text>
<text x="1264" y="962">Re<tspan font-size="12" dy="5">2</tspan><tspan dy="-5">MnS</tspan><tspan font-size="12" dy="5">6</tspan></text></g>
</svg>
</body></html>
